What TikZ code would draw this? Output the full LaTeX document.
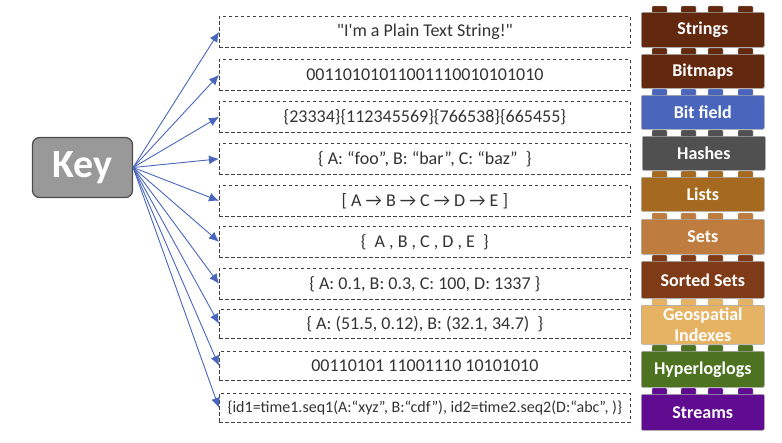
\documentclass[tikz,border=0pt]{standalone}
\usepackage{fontspec}
\setmainfont{Carlito}
\newfontfamily\plainfont{Carlito}
\usetikzlibrary{arrows.meta}
\definecolor{brn}{HTML}{63290F}
\definecolor{blu}{HTML}{4A66BC}
\definecolor{gry}{HTML}{505050}
\definecolor{ochre}{HTML}{A5691F}
\definecolor{tan}{HTML}{BE7D3E}
\definecolor{rust}{HTML}{7F3A17}
\definecolor{sand}{HTML}{E6B264}
\definecolor{grn}{HTML}{4E7320}
\definecolor{prp}{HTML}{5F0C91}
\definecolor{txt}{HTML}{333333}
\tikzset{
  x=1pt,y=-1pt,
  databox/.style={draw=black!75,dash pattern=on 3.5pt off 2.5pt,line width=0.7pt,minimum width=411pt,inner sep=0pt,anchor=north west,font=\fontsize{18}{19}\selectfont,text=txt},
  brick/.style={draw=gray!70,line width=0.6pt,rounded corners=1.2pt,minimum width=123pt,inner sep=0pt,anchor=north west,text=white,align=center,font=\bfseries\fontsize{18}{20}\selectfont},
  stud/.style={draw=gray!60,line width=0.3pt,rounded corners=1.2pt},
  link/.style={draw=blu,line width=0.9pt,-{Latex[length=10pt,width=9pt]}},
}
\newcommand{\studs}[2]{%
  \foreach \sx in {652,681,708,738}{\fill[#2,stud] (\sx,#1+1) -- (\sx,#1-6) -- (\sx+15,#1-6) -- (\sx+15,#1+1) -- cycle;}}
\begin{document}
\begin{tikzpicture}
\useasboundingbox (0,0) rectangle (782,442);
\node[draw=black!70,line width=1.2pt,fill=black!40,rounded corners=7pt,minimum width=100pt,minimum height=60pt,inner sep=0pt,text=white,font=\bfseries\fontsize{40}{44}\selectfont] (key) at (82.5,167.5) {Key};
\node[databox,minimum height=31pt] (b1) at (219,16) {\plainfont "I'm a Plain Text String!"};
\node[databox,minimum height=31pt] (b2) at (219,59) {00110101011001110010101010};
\node[databox,minimum height=31pt] (b3) at (219,101) {\{23334\}\{112345569\}\{766538\}\{665455\}};
\node[databox,minimum height=31pt] (b4) at (219,143) {\{ A: “foo”, B: “bar”, C: “baz”\ \ \}};
\node[databox,minimum height=31pt] (b5) at (219,185) {[ A → B → C → D → E ]};
\node[databox,minimum height=31pt] (b6) at (219,226) {\{\ \ A , B , C , D , E\ \ \}};
\node[databox,minimum height=31pt] (b7) at (219,268) {\{ A: 0.1, B: 0.3, C: 100, D: 1337 \}};
\node[databox,minimum height=29pt] (b8) at (219,309) {\{ A: (51.5, 0.12), B: (32.1, 34.7)\ \ \}};
\node[databox,minimum height=29pt] (b9) at (219,351) {00110101 11001110 10101010};
\node[databox,minimum height=29pt,font=\fontsize{16}{17}\selectfont] (b10) at (219,393) {\{id1=time1.seq1(A:“xyz”, B:“cdf”), id2=time2.seq2(D:“abc”, )\}};
\foreach \i in {1,...,10}{\draw[link] (key.east) -- (b\i.west);}
\studs{12}{brn}
\node[brick,fill=brn,minimum height=35pt] (s1) at (641,12) {Strings};
\studs{54}{brn}
\node[brick,fill=brn,minimum height=34pt] (s2) at (641,54) {Bitmaps};
\studs{95}{blu}
\node[brick,fill=blu,minimum height=34pt] (s3) at (641,95) {Bit field};
\studs{136}{gry}
\node[brick,fill=gry,minimum height=34pt] (s4) at (642,136) {Hashes};
\studs{177}{ochre}
\node[brick,fill=ochre,minimum height=34pt] (s5) at (641,177) {Lists};
\studs{219}{tan}
\node[brick,fill=tan,minimum height=35pt] (s6) at (641,219) {Sets};
\studs{261}{rust}
\node[brick,fill=rust,minimum height=37pt] (s7) at (641,261) {Sorted Sets};
\studs{305}{sand}
\node[brick,fill=sand,minimum height=39pt,font=\bfseries\fontsize{18}{21}\selectfont] (s8) at (641,305) {Geospatial\\Indexes};
\studs{351}{grn}
\node[brick,fill=grn,minimum height=36pt] (s9) at (641,351) {Hyperloglogs};
\studs{394}{prp}
\node[brick,fill=prp,minimum height=36pt] (s10) at (641,394) {Streams};
\end{tikzpicture}
\end{document}
